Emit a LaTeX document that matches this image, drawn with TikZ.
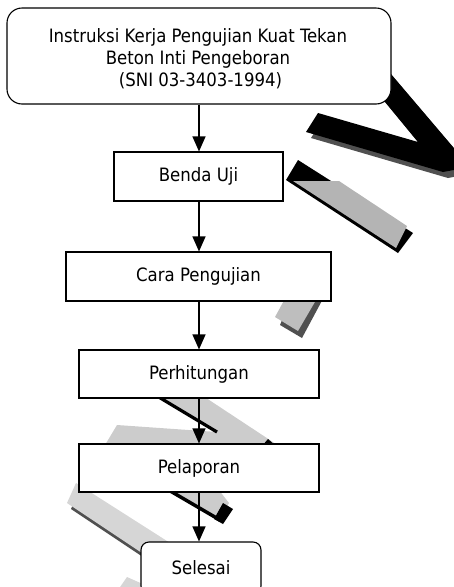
\documentclass[tikz,border=0pt]{standalone}
\usepackage{fontspec}
\setmainfont{DejaVu Sans Condensed}
\usetikzlibrary{arrows.meta}
\definecolor{vshadow}{RGB}{80,80,80}
\definecolor{midgray}{RGB}{180,180,180}
\definecolor{lightgray}{RGB}{190,190,190}
\definecolor{palegray}{RGB}{204,204,204}
\definecolor{bandgray}{RGB}{214,214,214}
\begin{document}
\begin{tikzpicture}[x=1pt,y=-1pt,
  box/.style={draw=black, line width=1.1pt, fill=white, inner sep=0pt},
  label/.style={font=\fontsize{18.4}{22}\selectfont, align=center, inner sep=0pt},
  arr/.style={line width=1.1pt, -{Triangle[length=15pt,width=13pt]}},
  wm/.style={draw=none}]
\useasboundingbox (0,0) rectangle (454,587);
\clip (0,0) rectangle (454,587);
% watermark shapes (behind the chart)
\fill[vshadow, shift={(5,6)}] (362,40) -- (470,167) -- (443,172) -- (306,132) -- (318,113) -- (418,142) -- (334,40) -- cycle;
\fill[black] (362,40) -- (470,167) -- (443,172) -- (306,132) -- (318,113) -- (418,142) -- (334,40) -- cycle;
\fill[black] (298,160) -- (413,233) -- (398,253) -- (286,180) -- cycle;
\fill[midgray] (293,181) -- (339,181) -- (407,226) -- (396,248) -- cycle;
\fill[vshadow] (292,295) -- (325,295) -- (302,338) -- (280,325) -- cycle;
\fill[lightgray] (287,295) -- (319,295) -- (298,331) -- (275,317) -- cycle;
\fill[palegray] (147,390) -- (194,390) -- (285,450) -- (102,450) -- (117,425) -- (217,432) -- cycle;
\draw[black, line width=3.2pt] (147,390) -- (217,432);
\fill[black] (262,446) -- (268,439) -- (276,446) -- cycle;
\fill[palegray] (160,485) -- (215,485) -- (229,503) -- (220,520) -- cycle;
\draw[black, line width=3.5pt] (160,485) -- (220,520);
\fill[black] (223,503) -- (233,509) -- (223,524) -- (214,519) -- cycle;
\fill[vshadow, shift={(4,6)}] (67,503) -- (76,483) -- (200,562) -- (190,585) -- cycle;
\fill[bandgray] (67,503) -- (76,483) -- (200,562) -- (190,585) -- cycle;
\fill[bandgray] (118,590) -- (127,577) -- (145,585) -- (145,590) -- cycle;
% flowchart
\node[box, rounded corners=15pt, minimum width=384pt, minimum height=96pt] (top) at (199,56) {};
\node[label] (toptext) at (198,59) {Instruksi Kerja Pengujian Kuat Tekan\\Beton Inti Pengeboran\\\hspace{5pt}(SNI 03-3403-1994)};
\node[box, label, minimum width=169pt, minimum height=49pt] (benda) at (198.5,176.5) {Benda Uji};
\node[box, label, minimum width=265pt, minimum height=49pt] (cara) at (198.5,276.5) {Cara Pengujian};
\node[box, label, minimum width=240pt, minimum height=48pt] (hitung) at (199,374) {Perhitungan};
\node[box, label, minimum width=240pt, minimum height=48pt] (lapor) at (199,468) {Pelaporan};
\node[box, label, rounded corners=8pt, minimum width=120pt, minimum height=52pt] (selesai) at (201,568) {Selesai};
\draw[arr] (top.south -| 199,0) -- (benda.north -| 199,0);
\draw[arr] (benda.south -| 199,0) -- (cara.north -| 199,0);
\draw[arr] (cara.south -| 199,0) -- (hitung.north -| 199,0);
\draw[arr] (hitung.south -| 199,0) -- (lapor.north -| 199,0);
\draw[arr] (lapor.south -| 199,0) -- (selesai.north -| 199,0);
\end{tikzpicture}
\end{document}
